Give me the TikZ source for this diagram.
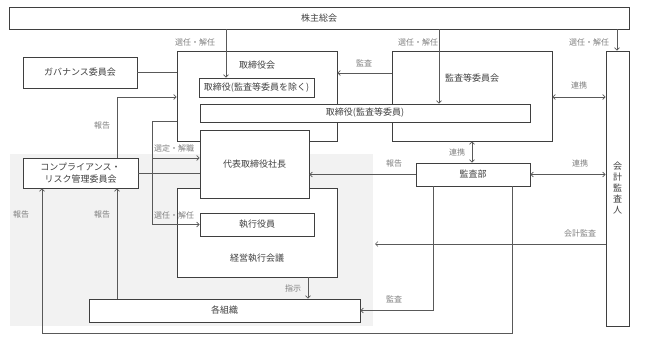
\documentclass[tikz,border=0pt]{standalone}
\usepackage{fontspec}
\setmainfont{Noto Sans CJK JP}
\usetikzlibrary{arrows.meta}
\definecolor{boxline}{HTML}{3F3F3F}
\definecolor{boxtext}{HTML}{404040}
\definecolor{conncol}{HTML}{595959}
\definecolor{lblcol}{HTML}{7F7F7F}
\definecolor{bggray}{HTML}{F2F2F2}
\begin{document}
\begin{tikzpicture}[x=1pt,y=-1pt,
  box/.style={draw=boxline, line width=0.9pt, fill=white, inner sep=0pt, text=boxtext, font=\fontsize{9}{11}\selectfont},
  btext/.style={inner sep=0pt, text=boxtext, font=\fontsize{9}{11}\selectfont},
  lbl/.style={inner sep=0pt, text=lblcol, font=\fontsize{8}{10}\selectfont},
  conn/.style={draw=conncol, line width=0.6pt},
  arr/.style={conn, -{Straight Barb[length=2.5pt,width=5pt]}},
  darr/.style={conn, {Straight Barb[length=2.5pt,width=5pt]}-{Straight Barb[length=2.5pt,width=5pt]}}
]
\useasboundingbox (0,0) rectangle (645,353);
% background
\fill[bggray] (10,154) rectangle (373,326);
% frames
\node[box, minimum width=160pt, minimum height=90pt] (tb) at (257,96) {};
\node[box, minimum width=160pt, minimum height=90pt] (ac) at (472,96) {};
\node[box, minimum width=160pt, minimum height=89pt] (em) at (257,232.5) {};
\node[btext] (tbt) at (257,65) {取締役会};
\node[btext] (act) at (472,78) {監査等委員会};
\node[btext] (emt) at (257,258) {経営執行会議};
% boxes
\node[box, minimum width=620pt, minimum height=22pt] (sh) at (319,18) {株主総会};
\node[box, minimum width=114pt, minimum height=31pt] (gov) at (80,72.5) {ガバナンス委員会};
\node[box, minimum width=115pt, minimum height=19pt] (tbx) at (256.5,87.5) {取締役(監査等委員を除く)};
\node[box, minimum width=330pt, minimum height=18pt] (tba) at (365,113) {取締役(監査等委員)};
\node[box, minimum width=109pt, minimum height=68pt] (pres) at (254.5,164) {代表取締役社長};
\node[box, minimum width=115pt, minimum height=30pt, align=center, font=\fontsize{9}{12.7}\selectfont] (comp) at (80.5,173) {コンプライアンス・\\リスク管理委員会};
\node[box, minimum width=114pt, minimum height=23pt] (eo) at (257,224.5) {執行役員};
\node[box, minimum width=271pt, minimum height=23pt] (org) at (224.5,310.5) {各組織};
\node[box, minimum width=114pt, minimum height=23pt] (ad) at (473,174.5) {監査部};
\node[box, minimum width=23pt, minimum height=275pt, align=center, font=\fontsize{9}{11}\selectfont] (ca) at (617.5,188.5) {会\\計\\監\\査\\人};
% connectors
\draw[arr] (226,0 |- sh.south) -- (226,0 |- tbx.north);
\draw[arr] (439,0 |- sh.south) -- (439,0 |- tba.north);
\draw[arr] (617,0 |- sh.south) -- (617,0 |- ca.north);
\node[lbl] (l1) at (195,42) {選任・解任};
\node[lbl] (l2) at (418,42) {選任・解任};
\node[lbl] (l3) at (589,42) {選任・解任};
\draw[conn] (gov.east) -- (gov.east -| tb.west);
\draw[arr] (ac.west |- 0,73) -- (tb.east |- 0,73);
\node[lbl] (l4) at (364,63) {監査};
\draw[darr] (ac.east |- 0,97) -- (ca.west |- 0,97);
\node[lbl] (l5) at (579,85) {連携};
\draw[arr] (117,0 |- comp.north) |- (tb.west |- 0,97);
\node[lbl] (l6) at (102,125) {報告};
\coordinate (selc) at (152,158);
\draw[arr] (tb.west |- 0,121) -| (selc) -- (pres.west |- selc);
\draw[arr] (selc) |- (eo.west);
\node[lbl] (l7) at (174,148) {選定・解職};
\node[lbl] (l8) at (174,215) {選任・解任};
\draw[conn] (comp.east) -- (comp.east -| pres.west);
\draw[arr] (ad.west) -- (ad.west -| pres.east);
\node[lbl] (l9) at (394,163) {報告};
\draw[darr] (472,0 |- ac.south) -- (472,0 |- ad.north);
\node[lbl] (l10) at (457,152) {連携};
\draw[darr] (ad.east) -- (ad.east -| ca.west);
\node[lbl] (l11) at (580,163) {連携};
\coordinate (caend) at (375,244);
\draw[arr] (ca.west |- caend) -- (caend);
\node[lbl] (l12) at (580,233) {会計監査};
\draw[arr] (433,0 |- ad.south) |- (org.east);
\node[lbl] (l13) at (394,299) {監査};
\coordinate (loopc) at (42,333);
\draw[arr] (512,0 |- ad.south) |- (loopc) -- (42,0 |- comp.south);
\node[lbl] (l14) at (21,214) {報告};
\draw[arr] (117,0 |- org.north) -- (117,0 |- comp.south);
\node[lbl] (l15) at (102,214) {報告};
\draw[arr] (308,0 |- em.south) -- (308,0 |- org.north);
\node[lbl] (l16) at (293,288) {指示};
\end{tikzpicture}
\end{document}
